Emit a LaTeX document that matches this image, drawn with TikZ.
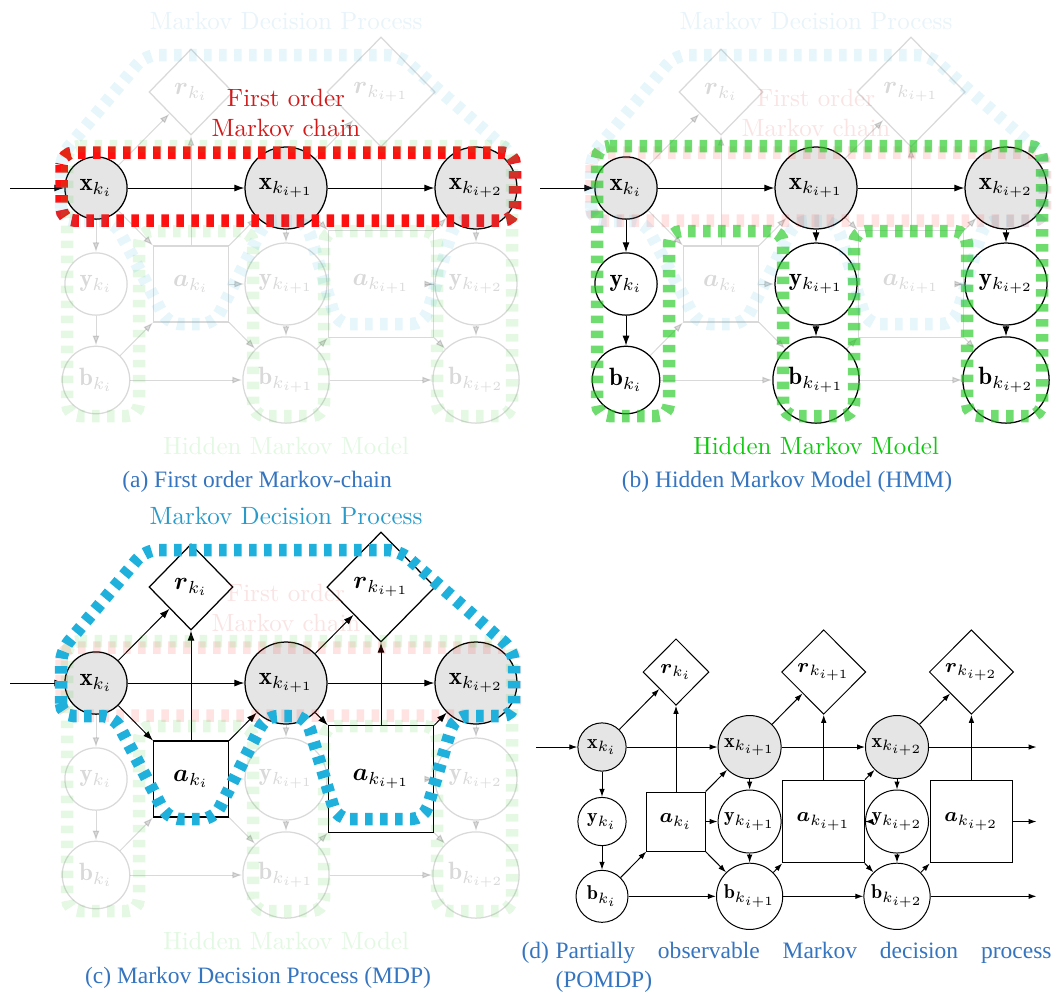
\documentclass[tikz,border=0pt]{standalone}
\usepackage{amsmath,amssymb}
\usepackage{fontspec}
\usepackage{xcolor}
\usepackage{tikz}
\usetikzlibrary{arrows.meta,positioning,shapes.geometric}
\newfontfamily\capfont{Liberation Serif}
\definecolor{chainred}{HTML}{FF1010}
\definecolor{chaintext}{HTML}{D21A1A}
\definecolor{hmmgreen}{HTML}{22C922}
\definecolor{hmmtext}{HTML}{10C810}
\definecolor{mdpblue}{HTML}{1FB0DC}
\definecolor{mdptext}{HTML}{2A9BC9}
\definecolor{capblue}{HTML}{3574BF}

\tikzset{
  state/.style={circle,draw,line width=0.5pt,inner sep=0pt},
  hid/.style={state,fill=black!10},
  reward/.style={diamond,draw,line width=0.5pt,inner sep=0pt},
  action/.style={rectangle,draw,line width=0.5pt,inner sep=0pt},
  arrow/.style={-{Latex[length=4pt,width=2.8pt]},line width=0.4pt},
  darrow/.style={-{Latex[length=3.2pt,width=2.2pt]},line width=0.4pt},
  faded/.style={opacity=0.15},
  band/.style={line width=5pt,dashed,rounded corners=5pt},
  subcap/.style={text=capblue,font=\capfont\fontsize{9.4}{11.5}\selectfont},
}

% one copy of the decision graph with the three highlights
% #1 name prefix, #2 shift, #3 y/b opacity, #4 r/a opacity,
% #5 red, #6 green, #7 blue
\newcommand{\markovpanel}[7]{%
  \begin{scope}[shift={#2}]
    % state chain
    \coordinate (#1in) at (10,188);
    \node[hid,minimum size=24.9pt] (#1x1) at (96,188) {$\mathbf{x}_{k_i}$};
    \node[hid,minimum size=32.8pt] (#1x2) at (286,188) {$\mathbf{x}_{k_{i+1}}$};
    \node[hid,minimum size=32.8pt] (#1x3) at (476,188) {$\mathbf{x}_{k_{i+2}}$};
    \draw[arrow] (#1in) -- (#1x1);
    \draw[arrow] (#1x1) -- (#1x2);
    \draw[arrow] (#1x2) -- (#1x3);
    % observations and beliefs
    \begin{scope}[opacity=#3]
      \node[state,minimum size=24.9pt] (#1y1) at (96,284) {$\mathbf{y}_{k_i}$};
      \node[state,minimum size=32.8pt] (#1y2) at (286,284) {$\mathbf{y}_{k_{i+1}}$};
      \node[state,minimum size=32.8pt] (#1y3) at (476,284) {$\mathbf{y}_{k_{i+2}}$};
      \node[state,minimum size=27pt] (#1b1) at (96,380) {$\mathbf{b}_{k_i}$};
      \node[state,minimum size=34.5pt] (#1b2) at (286,380) {$\mathbf{b}_{k_{i+1}}$};
      \node[state,minimum size=34.5pt] (#1b3) at (476,380) {$\mathbf{b}_{k_{i+2}}$};
      \draw[arrow] (#1x1) -- (#1y1);
      \draw[arrow] (#1y1) -- (#1b1);
      \draw[arrow] (#1x2) -- (#1y2);
      \draw[arrow] (#1y2) -- (#1b2);
      \draw[arrow] (#1x3) -- (#1y3);
      \draw[arrow] (#1y3) -- (#1b3);
    \end{scope}
    % rewards and actions
    \begin{scope}[opacity=#4]
      \node[reward,minimum width=33.6pt,minimum height=34.4pt] (#1r1) at (191,92) {$\boldsymbol{r}_{k_i}$};
      \node[reward,minimum width=43.3pt,minimum height=44pt] (#1r2) at (381,92) {$\boldsymbol{r}_{k_{i+1}}$};
      \node[action,minimum width=29.9pt,minimum height=30.4pt] (#1a1) at (191,284) {$\boldsymbol{a}_{k_i}$};
      \node[action,minimum width=42pt,minimum height=42.6pt] (#1a2) at (381,284) {$\boldsymbol{a}_{k_{i+1}}$};
      \draw[arrow] (#1x1) -- (#1r1);
      \draw[arrow] (#1x1) -- (#1a1);
      \draw[arrow] (#1a1) -- (#1r1);
      \draw[arrow] (#1a1) -- (#1x2);
      \draw[arrow] (#1x2) -- (#1r2);
      \draw[arrow] (#1x2) -- (#1a2);
      \draw[arrow] (#1a2) -- (#1r2);
      \draw[arrow] (#1a2) -- (#1x3);
    \end{scope}
    \begin{scope}[faded]
      \draw[arrow] (#1b1) -- (#1a1);
      \draw[arrow] (#1a1) -- (#1y2);
      \draw[arrow] (#1a1) -- (#1b2);
      \draw[arrow] (#1b1) -- (#1b2);
      \draw[arrow] (#1b2) -- (#1a2);
      \draw[arrow] (#1a2) -- (#1y3);
      \draw[arrow] (#1a2) -- (#1b3);
      \draw[arrow] (#1b2) -- (#1b3);
    \end{scope}
    % highlights
    \pgfmathsetmacro{\hmmop}{min(0.65,#6)}
    \draw[band,chainred,opacity=#5] (61.5,152.5) rectangle (515,220.5);
    \draw[band,hmmgreen,opacity=\hmmop] (67,146) -- (512,146) -- (512,416)
      -- (437,416) -- (437,231) -- (324,231) -- (324,416) -- (253,416)
      -- (253,231) -- (139,231) -- (139,416) -- (67,416) -- cycle;
    \draw[band,mdpblue,opacity=#7] (61,221) -- (61,156) -- (145,55) -- (399,55)
      -- (514,156) -- (514,221) -- (455,221) -- (424,324) -- (337,324)
      -- (306,221) -- (266,221) -- (214,324) -- (168,324) -- (114,221) -- cycle;
    \node[text=chaintext,align=center,opacity=#5] (#1redlbl) at (286,113) {First order\\Markov chain};
    \node[text=hmmtext,opacity=#6] (#1hmmlbl) at (286,446) {Hidden Markov Model};
    \node[text=mdptext,opacity=#7] (#1mdplbl) at (286,21) {Markov Decision Process};
  \end{scope}}

\begin{document}
\begin{tikzpicture}[x=0.4pt,y=-0.4pt]
  \useasboundingbox (0,0) rectangle (1063,995);

  \markovpanel{a}{(0,0)}{0.15}{0.15}{1}{0.12}{0.11}
  \markovpanel{b}{(530,0)}{1}{0.15}{0.12}{1}{0.11}
  \markovpanel{c}{(0,495)}{0.15}{1}{0.12}{0.12}{1}

  % POMDP
  \begin{scope}[font=\footnotesize,state/.append style={line width=0.4pt},
      reward/.append style={line width=0.4pt},action/.append style={line width=0.4pt}]
    \coordinate (din) at (536,747);
    \node[hid,minimum size=19.3pt] (dx1) at (602,747) {$\mathbf{x}_{k_i}$};
    \node[hid,minimum size=25.2pt] (dx2) at (749.6,747) {$\mathbf{x}_{k_{i+1}}$};
    \node[hid,minimum size=25.2pt] (dx3) at (897,747) {$\mathbf{x}_{k_{i+2}}$};
    \coordinate (dxout) at (1036.5,747);
    \node[state,minimum size=19.3pt] (dy1) at (602,821.5) {$\mathbf{y}_{k_i}$};
    \node[state,minimum size=25.2pt] (dy2) at (749.6,821.5) {$\mathbf{y}_{k_{i+1}}$};
    \node[state,minimum size=25.2pt] (dy3) at (897,821.5) {$\mathbf{y}_{k_{i+2}}$};
    \node[state,minimum size=20.8pt] (db1) at (602,896.3) {$\mathbf{b}_{k_i}$};
    \node[state,minimum size=26.5pt] (db2) at (749.6,896.3) {$\mathbf{b}_{k_{i+1}}$};
    \node[state,minimum size=26.5pt] (db3) at (897,896.3) {$\mathbf{b}_{k_{i+2}}$};
    \coordinate (dbout) at (1036.5,896.3);
    \node[reward,minimum width=26.4pt,minimum height=26.6pt] (dr1) at (676,672) {$\boldsymbol{r}_{k_i}$};
    \node[reward,minimum width=33.7pt,minimum height=33.8pt] (dr2) at (823.7,672) {$\boldsymbol{r}_{k_{i+1}}$};
    \node[reward,minimum width=33.7pt,minimum height=33.8pt] (dr3) at (971.4,672) {$\boldsymbol{r}_{k_{i+2}}$};
    \node[action,minimum width=23.4pt,minimum height=23.6pt] (da1) at (676,821.5) {$\boldsymbol{a}_{k_i}$};
    \node[action,minimum width=33pt,minimum height=33.1pt] (da2) at (823.7,821.5) {$\boldsymbol{a}_{k_{i+1}}$};
    \node[action,minimum width=33pt,minimum height=33.1pt] (da3) at (971.4,821.5) {$\boldsymbol{a}_{k_{i+2}}$};
    \coordinate (daout) at (1036.5,821.5);

    \draw[darrow] (din) -- (dx1);
    \draw[darrow] (dx1) -- (dx2);
    \draw[darrow] (dx2) -- (dx3);
    \draw[darrow] (dx3) -- (dxout);
    \draw[darrow] (db1) -- (db2);
    \draw[darrow] (db2) -- (db3);
    \draw[darrow] (db3) -- (dbout);
    \draw[darrow] (dx1) -- (dy1);
    \draw[darrow] (dy1) -- (db1);
    \draw[darrow] (dx2) -- (dy2);
    \draw[darrow] (dy2) -- (db2);
    \draw[darrow] (dx3) -- (dy3);
    \draw[darrow] (dy3) -- (db3);
    \draw[darrow] (dx1) -- (dr1);
    \draw[darrow] (dx2) -- (dr2);
    \draw[darrow] (dx3) -- (dr3);
    \draw[darrow] (da1) -- (dr1);
    \draw[darrow] (da2) -- (dr2);
    \draw[darrow] (da3) -- (dr3);
    \draw[darrow] (db1) -- (da1);
    \draw[darrow] (db2) -- (da2);
    \draw[darrow] (db3) -- (da3);
    \draw[darrow] (da1) -- (dx2);
    \draw[darrow] (da1) -- (dy2);
    \draw[darrow] (da1) -- (db2);
    \draw[darrow] (da2) -- (dx3);
    \draw[darrow] (da2) -- (dy3);
    \draw[darrow] (da2) -- (db3);
    \draw[darrow] (da3) -- (daout);
  \end{scope}

  % captions
  \node[subcap] (capa) at (257,482) {(a) First order Markov-chain};
  \node[subcap] (capb) at (787,482) {(b) Hidden Markov Model (HMM)};
  \node[subcap] (capc) at (258,978) {(c) Markov Decision Process (MDP)};
  \node[subcap,anchor=north west,inner sep=0pt] (capd) at (521,942) {(d)};
  \node[subcap,anchor=north west,inner sep=0pt,text width=198.4pt,align=justify] (capdtxt)
    at (555,942) {Partially observable Markov decision process (POMDP)};
\end{tikzpicture}
\end{document}
